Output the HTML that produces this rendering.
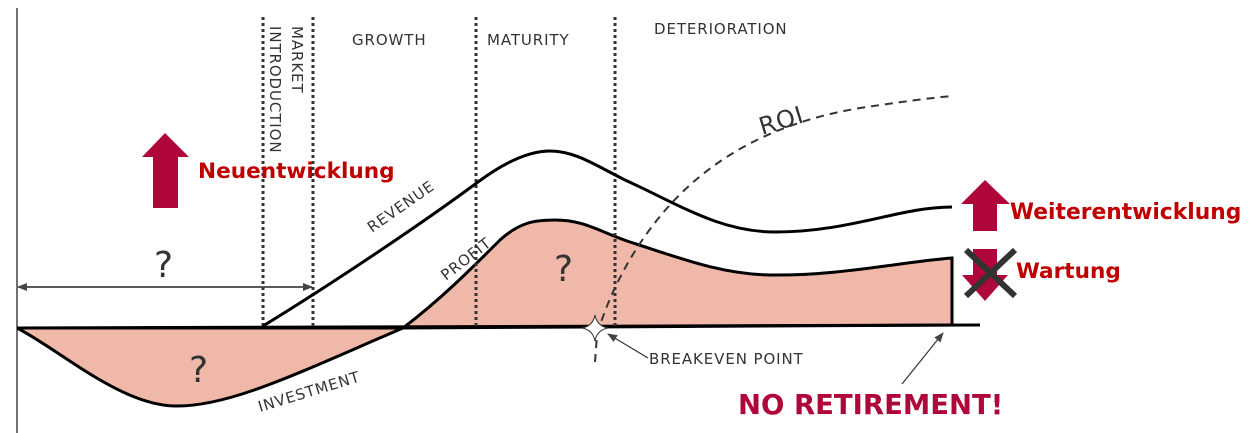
<!DOCTYPE html>
<html><head><meta charset="utf-8"><style>
html,body{margin:0;padding:0;background:#fff;width:1260px;height:433px;overflow:hidden}
svg text{font-family:"DejaVu Sans","Liberation Sans",sans-serif}
</style></head><body>
<svg width="1260" height="433" viewBox="0 0 1260 433" xmlns="http://www.w3.org/2000/svg">
<defs>
<marker id="ah" markerWidth="10" markerHeight="8" refX="9" refY="4" orient="auto" markerUnits="userSpaceOnUse"><path d="M0,0 L10,4 L0,8 Z" fill="#444"/></marker>
</defs>
<path d="M17,328 C60,350 120,405 175,406 C230,407 300,372 403,328 Z" fill="#efb8a8" stroke="#000" stroke-width="3"/>
<path d="M403,328 C440,300 470,270 500,240 C520,222 535,220 555,220 C585,220 600,232 630,242 C680,258 720,274 770,275 C840,276 900,262 952,258 L952,325 L403,328 Z" fill="#efb8a8" stroke="#000" stroke-width="3"/>
<line x1="17" y1="8" x2="17" y2="433" stroke="#444" stroke-width="1.5"/>
<line x1="17" y1="328" x2="980" y2="325" stroke="#000" stroke-width="3"/>
<g stroke="#333" stroke-width="3" stroke-dasharray="3,3">
<line x1="263" y1="17" x2="263" y2="327"/>
<line x1="313" y1="17" x2="313" y2="327"/>
<line x1="476" y1="17" x2="476" y2="327"/>
<line x1="615" y1="17" x2="615" y2="327"/>
</g>
<path d="M263,326 C330,285 420,225 478,182 C505,162 530,151 550,151 C575,151 595,165 625,180 C680,205 720,232 775,232 C850,232 900,207 952,207" fill="none" stroke="#000" stroke-width="3"/>
<path d="M595,362 L597,335 C610,290 640,230 690,185 C740,140 800,118 860,108 C900,102 930,98 952,96" fill="none" stroke="#333" stroke-width="2" stroke-dasharray="8,6"/>
<path d="M595,315 Q597,326 608,328 Q597,330 595,341 Q593,330 582,328 Q593,326 595,315 Z" fill="#fff" stroke="#333" stroke-width="1"/>
<line x1="22" y1="287" x2="312" y2="287" stroke="#444" stroke-width="1.5" marker-end="url(#ah)"/>
<line x1="312" y1="287" x2="18" y2="287" stroke="#444" stroke-width="1.5" marker-end="url(#ah)"/>
<line x1="648" y1="358" x2="608" y2="334" stroke="#333" stroke-width="1.2" marker-end="url(#ah)"/>
<line x1="902" y1="384" x2="943" y2="333" stroke="#333" stroke-width="1.2" marker-end="url(#ah)"/>
<g fill="#333" font-size="15" letter-spacing="0.9">
<text x="352" y="45">GROWTH</text>
<text x="487" y="45">MATURITY</text>
<text x="654" y="34">DETERIORATION</text>
<text transform="translate(270,26) rotate(90)">INTRODUCTION</text>
<text transform="translate(292,26) rotate(90)">MARKET</text>
<text transform="translate(372,233) rotate(-35)">REVENUE</text>
<text transform="translate(446,281) rotate(-38)">PROFIT</text>
<text transform="translate(260,412) rotate(-17)">INVESTMENT</text>
<text x="649" y="364">BREAKEVEN POINT</text>
<text transform="translate(762,135) rotate(-17)" font-size="24" letter-spacing="1">ROI</text>
</g>
<g fill="#333" font-size="36">
<text x="154" y="277">?</text>
<text x="189" y="382">?</text>
<text x="554" y="281">?</text>
</g>
<path d="M165,133 L189,157 L178,157 L178,208 L153,208 L153,157 L142,157 Z" fill="#b0073a"/>
<path d="M985,180 L1010,204 L997,204 L997,231 L973,231 L973,204 L961,204 Z" fill="#b0073a"/>
<path d="M973,249 L997,249 L997,275 L1008,275 L985,301 L962,275 L973,275 Z" fill="#b0073a"/>
<g stroke="#333" stroke-width="6"><line x1="966" y1="250" x2="1015" y2="296"/><line x1="1015" y1="250" x2="966" y2="296"/></g>
<g font-family="'DejaVu Sans','Liberation Sans',sans-serif" font-weight="bold">
<text x="198" y="178" font-size="21.6" fill="#c00000">Neuentwicklung</text>
<text x="1010" y="219" font-size="21.8" fill="#c00000">Weiterentwicklung</text>
<text x="1016" y="278" font-size="21.6" fill="#c00000">Wartung</text>
<text x="738" y="414" font-size="27.5" fill="#b0073a">NO RETIREMENT!</text>
</g>
</svg>
</body></html>
